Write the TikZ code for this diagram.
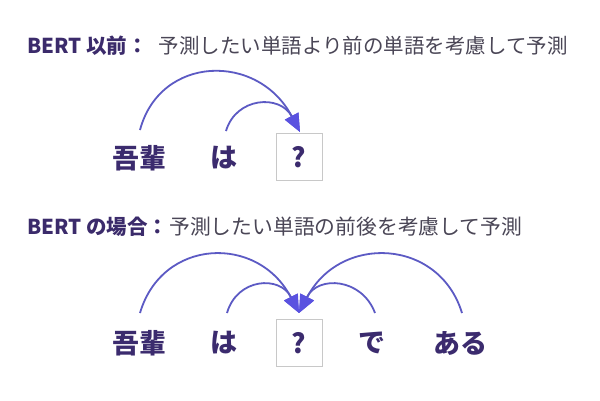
\documentclass[tikz,border=0pt]{standalone}
\usepackage{fontspec}
\usetikzlibrary{arrows.meta}
\newfontfamily\jp{Noto Sans CJK JP}
\definecolor{titlecol}{HTML}{3B2B6B}
\definecolor{graytext}{HTML}{4A4656}
\definecolor{wordcol}{HTML}{3B2B6E}
\definecolor{arccol}{HTML}{5C5AC4}
\definecolor{tipcol}{HTML}{5A52E0}
\definecolor{boxcol}{HTML}{C8C8C8}
\begin{document}
\begin{tikzpicture}[x=1pt,y=-1pt,
  title/.style={anchor=west,inner sep=0pt,font=\jp\fontsize{20.5}{24}\selectfont},
  word/.style={inner sep=0pt,text=wordcol,font=\jp\bfseries\fontsize{27}{30}\selectfont},
  qbox/.style={draw=boxcol,line width=0.8pt,minimum width=46pt,minimum height=47pt,inner sep=0pt,text=wordcol,font=\jp\bfseries\fontsize{27}{30}\selectfont},
  arc/.style={draw=arccol,line width=1.8pt,-{Triangle[length=18pt,width=15pt,fill=tipcol,color=tipcol]}}
]
\useasboundingbox (0,0) rectangle (600,400);
\fill[white] (0,0) rectangle (600,400);
% row 1
\node[title] (t1) at (27,46) {{\bfseries\color{titlecol}BERT 以前：}\hspace{11pt}\color{graytext}予測したい単語より前の単語を考慮して予測};
\node[word] (w1a) at (139,158) {吾輩};
\node[word] (w1b) at (224,158) {は};
\node[qbox] (q1) at (299,157) {?};
\coordinate (s1a) at (140,130);
\coordinate (s1b) at (226,131);
\coordinate (e1) at (300,132);
\draw[arc] (s1a) .. controls (160,55) and (258,52) .. (e1);
\draw[arc] (s1b) .. controls (236,97) and (280,94) .. (e1);
% row 2
\node[title] (t2) at (27,227) {{\bfseries\color{titlecol}BERT の場合：}\hspace{1pt}{\fontsize{20.8}{24}\selectfont\color{graytext}予測したい単語の前後を考慮して予測}};
\node[word] (w2a) at (139,343) {吾輩};
\node[word] (w2b) at (224,343) {は};
\node[qbox] (q2) at (299,343) {?};
\node[word] (w2c) at (372,343) {で};
\node[word] (w2d) at (460,343) {ある};
\coordinate (s2a) at (140,313);
\coordinate (s2b) at (227,313);
\coordinate (s2c) at (375,313);
\coordinate (s2d) at (462,313);
\coordinate (e2) at (299,313);
\draw[arc] (s2a) .. controls (162,238) and (258,234) .. (e2);
\draw[arc] (s2b) .. controls (237,278) and (280,275) .. (e2);
\draw[arc] (s2c) .. controls (362,278) and (318,275) .. (e2);
\draw[arc] (s2d) .. controls (439,238) and (340,234) .. (e2);
\end{tikzpicture}
\end{document}
